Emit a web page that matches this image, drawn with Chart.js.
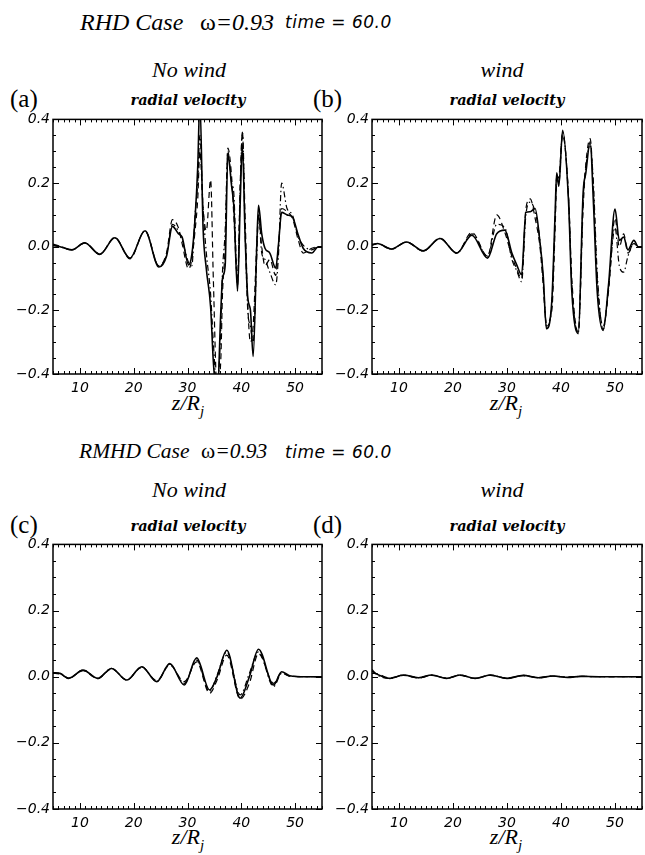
<!DOCTYPE html>
<html><head><meta charset="utf-8">
<script src="https://cdn.jsdelivr.net/npm/chart.js@4/dist/chart.umd.min.js"></script>
<style>
body{margin:0;background:#fff;width:645px;height:855px;position:relative;overflow:hidden;font-family:"Liberation Serif",serif;}
.t{position:absolute;white-space:nowrap;line-height:1;color:#000;}
.it{font-style:italic;}
.hd{font-family:"Liberation Serif",serif;font-size:24px;}
.hd2{font-family:"Liberation Serif",serif;font-size:21.5px;}
.sm{font-family:"DejaVu Sans",sans-serif;font-style:italic;font-size:17px;letter-spacing:0.5px;}
.lab{font-family:"Liberation Serif",serif;font-size:25px;}
.sub{font-family:"Liberation Serif",serif;font-style:italic;font-size:22px;}
.rv{font-family:"DejaVu Serif",serif;font-style:italic;font-weight:bold;font-size:14.5px;transform:translateX(-50%);}
.ax{font-family:"Liberation Serif",serif;font-style:italic;font-size:22px;transform:translateX(-50%);}
.ax sub{font-size:15px;vertical-align:-6px;line-height:0;}
.c{transform:translateX(-50%);}
.cv{position:absolute;}
</style></head>
<body>
<div class="t hd it" style="left:80px;top:10px;">RHD Case</div>
<div class="t hd" style="left:200px;top:10px;">ω<span class="it">=0.93</span></div>
<div class="t sm" style="left:285px;top:14px;">time = 60.0</div>
<div class="t sub c" style="left:189px;top:59px;">No wind</div>
<div class="t sub c" style="left:502px;top:59px;">wind</div>
<div class="t lab" style="left:10px;top:86px;">(a)</div>
<div class="t lab" style="left:313px;top:86px;">(b)</div>
<div class="t rv" style="left:188px;top:93px;">radial velocity</div>
<div class="t rv" style="left:507px;top:93px;">radial velocity</div>
<div class="t ax" style="left:188px;top:392px;">z/R<sub>j</sub></div>
<div class="t ax" style="left:506px;top:392px;">z/R<sub>j</sub></div>

<div class="t hd2 it" style="left:79px;top:441px;">RMHD Case</div>
<div class="t hd2" style="left:201px;top:441px;">ω<span class="it">=0.93</span></div>
<div class="t sm" style="left:285px;top:444px;">time = 60.0</div>
<div class="t sub c" style="left:189px;top:479px;">No wind</div>
<div class="t sub c" style="left:502px;top:479px;">wind</div>
<div class="t lab" style="left:10px;top:512px;">(c)</div>
<div class="t lab" style="left:313px;top:512px;">(d)</div>
<div class="t rv" style="left:188px;top:519px;">radial velocity</div>
<div class="t rv" style="left:507px;top:519px;">radial velocity</div>
<div class="t ax" style="left:188px;top:826px;">z/R<sub>j</sub></div>
<div class="t ax" style="left:506px;top:826px;">z/R<sub>j</sub></div>

<canvas id="pa" class="cv" width="330" height="300" style="left:0px;top:108px;"></canvas>
<canvas id="pb" class="cv" width="326" height="300" style="left:319px;top:108px;"></canvas>
<canvas id="pc" class="cv" width="330" height="310" style="left:0px;top:533px;"></canvas>
<canvas id="pd" class="cv" width="326" height="310" style="left:319px;top:533px;"></canvas>

<script>
// ---- tick labels ----
const xTickValues = [10, 20, 30, 40, 50];
const yTickValues = [-0.4, -0.2, 0.0, 0.2, 0.4];

// ---- panel (a): RHD, no wind ----
const zA = [5, 6.3, 8.5, 10.9, 13.7, 16.5, 19.3, 22.1, 24.7, 26.1, 27.2, 28.3, 29.0, 30.2, 30.8, 31.4, 31.9, 32.3, 32.9, 33.5, 34.3, 34.8, 35.5, 36.2, 36.5, 37.0, 37.5, 38.2, 38.6, 39.3, 39.8, 40.2, 40.7, 41.2, 41.7, 42.2, 42.9, 43.2, 43.8, 44.4, 45.3, 46.4, 46.9, 47.5, 48.5, 49.5, 50.6, 51.5, 53.1, 54.3, 55];
const solidA = [0.005, 0.0, -0.01, 0.012, -0.024, 0.028, -0.036, 0.05, -0.064, -0.03, 0.064, 0.041, 0.03, -0.057, -0.025, 0.088, 0.25, 0.46, 0.057, -0.07, -0.19, -0.36, -0.48, -0.2, -0.1, -0.06, 0.29, 0.19, 0.13, -0.14, 0.14, 0.32, 0.037, -0.16, -0.2, -0.345, 0.015, 0.13, 0.04, -0.005, -0.02, -0.067, 0.005, 0.108, 0.1, 0.093, 0.036, -0.005, -0.02, 0.0, 0.0];
const dashA = [0.008, 0.002, -0.01, 0.012, -0.024, 0.03, -0.038, 0.05, -0.06, -0.02, 0.085, 0.06, 0.01, -0.07, -0.04, 0.05, 0.15, 0.3, 0.12, 0.05, 0.21, -0.1, -0.45, -0.35, -0.15, 0.0, 0.31, 0.22, 0.1, -0.1, 0.2, 0.36, 0.1, -0.18, -0.3, -0.25, 0.02, 0.1, 0.0, -0.06, -0.04, -0.09, 0.0, 0.12, 0.11, 0.09, 0.02, -0.02, -0.005, 0.0, 0.0];
const dotA = [0.004, 0.0, -0.01, 0.012, -0.023, 0.028, -0.036, 0.05, -0.062, -0.025, 0.07, 0.05, 0.02, -0.05, -0.06, 0.1, 0.2, 0.35, 0.12, -0.02, -0.15, -0.3, -0.45, -0.25, -0.08, 0.05, 0.3, 0.2, 0.17, -0.12, 0.18, 0.36, 0.05, -0.2, -0.25, -0.3, -0.02, 0.1, -0.02, -0.04, -0.08, -0.12, -0.03, 0.2, 0.12, 0.1, 0.03, 0.005, -0.01, 0.0, 0.0];

// ---- panel (b): RHD, wind ----
const zB = [5, 5.2, 6, 8.6, 11.4, 14.5, 17.6, 20.7, 23.5, 26.4, 28.1, 29.6, 30.9, 31.8, 32.7, 33.5, 34.3, 35.2, 36.1, 36.7, 37.3, 38.3, 38.9, 39.2, 39.6, 40.3, 41.4, 42.0, 43.2, 44.1, 44.6, 45.4, 46.0, 46.7, 47.8, 48.8, 50.0, 50.8, 51.6, 52.4, 53.5, 54.3, 55];
const solidB = [0.005, 0.006, 0.01, -0.007, 0.015, -0.013, 0.026, -0.02, 0.036, -0.036, 0.041, 0.052, -0.02, -0.057, -0.088, 0.108, 0.11, 0.12, 0.015, -0.09, -0.258, -0.17, 0.1, 0.232, 0.19, 0.366, 0.14, -0.14, -0.273, 0.17, 0.232, 0.33, 0.14, -0.14, -0.263, -0.12, 0.118, 0.02, 0.03, -0.01, 0.02, 0.0, 0.0];
const dashB = [0.008, 0.008, 0.01, -0.008, 0.015, -0.014, 0.027, -0.02, 0.045, -0.03, 0.1, 0.045, -0.03, -0.07, -0.1, 0.12, 0.15, 0.09, 0.0, -0.12, -0.24, -0.2, 0.05, 0.2, 0.22, 0.35, 0.16, -0.1, -0.27, 0.12, 0.26, 0.34, 0.18, -0.1, -0.25, -0.14, 0.09, 0.0, 0.04, -0.02, 0.01, 0.0, 0.0];
const dotB = [0.005, 0.006, 0.01, -0.007, 0.014, -0.013, 0.026, -0.02, 0.04, -0.03, 0.07, 0.06, -0.04, -0.075, -0.11, 0.1, 0.14, 0.11, 0.02, -0.1, -0.25, -0.18, 0.08, 0.22, 0.2, 0.36, 0.15, -0.12, -0.27, 0.15, 0.25, 0.32, 0.2, -0.08, -0.26, -0.13, 0.06, -0.06, -0.08, -0.03, 0.01, 0.0, 0.0];

// ---- panel (c): RMHD, no wind ----
const zC = [5, 6.3, 7.9, 10.6, 13.3, 15.9, 18.7, 21.5, 24.3, 26.7, 29.4, 31.7, 34.1, 35.5, 37.3, 39.8, 41.5, 43.2, 46.0, 47.5, 49, 52, 55];
const solidC = [0.012, 0.01, -0.005, 0.02, -0.005, 0.025, -0.01, 0.03, -0.015, 0.04, -0.025, 0.057, -0.04, 0.0, 0.08, -0.065, 0.0, 0.083, -0.025, 0.015, 0.003, 0.0, 0.0];
const dashC = [0.01, 0.008, -0.005, 0.018, -0.006, 0.024, -0.01, 0.028, -0.012, 0.035, -0.015, 0.045, -0.05, -0.01, 0.065, -0.068, -0.02, 0.07, -0.02, 0.012, 0.002, 0.0, 0.0];
const dotC = [0.012, 0.01, -0.004, 0.02, -0.005, 0.025, -0.01, 0.03, -0.014, 0.038, -0.02, 0.05, -0.045, 0.005, 0.075, -0.055, 0.01, 0.075, -0.03, 0.01, 0.002, 0.0, 0.0];

// ---- panel (d): RMHD, wind ----
const zD = [5, 5.9, 8.3, 10.8, 13.6, 16.1, 18.8, 21.3, 24.1, 26.9, 30, 33, 35.8, 38.5, 41.2, 43.7, 47, 51, 55];
const solidD = [0.017, 0.008, -0.005, 0.005, -0.003, 0.005, -0.005, 0.005, -0.005, 0.005, -0.005, 0.004, -0.003, 0.002, -0.002, 0.001, 0.0, 0.0, 0.0];
const dashD = [0.01, 0.009, -0.004, 0.004, -0.004, 0.004, -0.004, 0.004, -0.005, 0.004, -0.004, 0.003, -0.003, 0.002, -0.001, 0.001, 0.0, 0.0, 0.0];
const dotD = [0.022, 0.006, -0.005, 0.005, -0.003, 0.005, -0.005, 0.005, -0.005, 0.005, -0.005, 0.004, -0.003, 0.002, -0.002, 0.001, 0.0, 0.0, 0.0];

function pts(xs, ys) { return xs.map((x, i) => ({x: x, y: ys[i]})); }

const framePlugin = {
  id: 'idlFrame',
  afterDatasetsDraw(chart) {
    const ctx = chart.ctx, a = chart.chartArea, sx = chart.scales.x, sy = chart.scales.y;
    ctx.save();
    ctx.strokeStyle = '#000';
    ctx.lineWidth = 1;
    ctx.beginPath();
    for (let v = 5; v <= 55; v++) {
      const px = Math.round(sx.getPixelForValue(v)) + 0.5;
      const L = (v % 10 === 0) ? 6 : 3;
      ctx.moveTo(px, a.bottom); ctx.lineTo(px, a.bottom - L);
      ctx.moveTo(px, a.top); ctx.lineTo(px, a.top + L);
    }
    for (let k = -8; k <= 8; k++) {
      const py = Math.round(sy.getPixelForValue(k * 0.05)) + 0.5;
      const L = (k % 4 === 0) ? 6 : 3;
      ctx.moveTo(a.left, py); ctx.lineTo(a.left + L, py);
      ctx.moveTo(a.right, py); ctx.lineTo(a.right - L, py);
    }
    ctx.stroke();
    ctx.lineWidth = 1.5;
    ctx.strokeRect(a.left, a.top, a.right - a.left, a.bottom - a.top);
    ctx.restore();
  }
};

const tickFont = {family: '"DejaVu Sans", sans-serif', size: 14, style: 'italic', weight: 'normal'};

function makePanel(id, xs, s, d, dd, padRight, axisH) {
  const base = {borderColor: '#000', pointRadius: 0, fill: false, cubicInterpolationMode: 'monotone'};
  new Chart(document.getElementById(id), {
    type: 'line',
    data: {datasets: [
      Object.assign({data: pts(xs, s), borderWidth: 1.6}, base),
      Object.assign({data: pts(xs, d), borderWidth: 1.2, borderDash: [6, 4]}, base),
      Object.assign({data: pts(xs, dd), borderWidth: 1.2, borderDash: [6, 3, 1.5, 3]}, base)
    ]},
    options: {
      responsive: false, animation: false,
      plugins: {legend: {display: false}, tooltip: {enabled: false}},
      layout: {padding: {left: 0, top: 8, right: padRight, bottom: 0}},
      scales: {
        x: {type: 'linear', min: 5, max: 55,
          afterBuildTicks: ax => { ax.ticks = xTickValues.map(v => ({value: v})); },
          afterFit: ax => { ax.height = axisH; },
          grid: {display: false, drawTicks: false}, border: {display: false},
          ticks: {font: tickFont, color: '#000', padding: 6, maxRotation: 0, autoSkip: false}},
        y: {type: 'linear', min: -0.4, max: 0.4,
          afterBuildTicks: ax => { ax.ticks = yTickValues.map(v => ({value: v})); },
          afterFit: ax => { ax.width = 53; },
          grid: {display: false, drawTicks: false}, border: {display: false},
          ticks: {font: tickFont, color: '#000', padding: 3, autoSkip: false,
            callback: v => Number(v).toFixed(1).replace('-', '−')}}
      }
    },
    plugins: [framePlugin]
  });
}

makePanel('pa', zA, solidA, dashA, dotA, 8, 34);
makePanel('pb', zB, solidB, dashB, dotB, 3, 34);
makePanel('pc', zC, solidC, dashC, dotC, 8, 34);
makePanel('pd', zD, solidD, dashD, dotD, 3, 34);
</script>
</body></html>
